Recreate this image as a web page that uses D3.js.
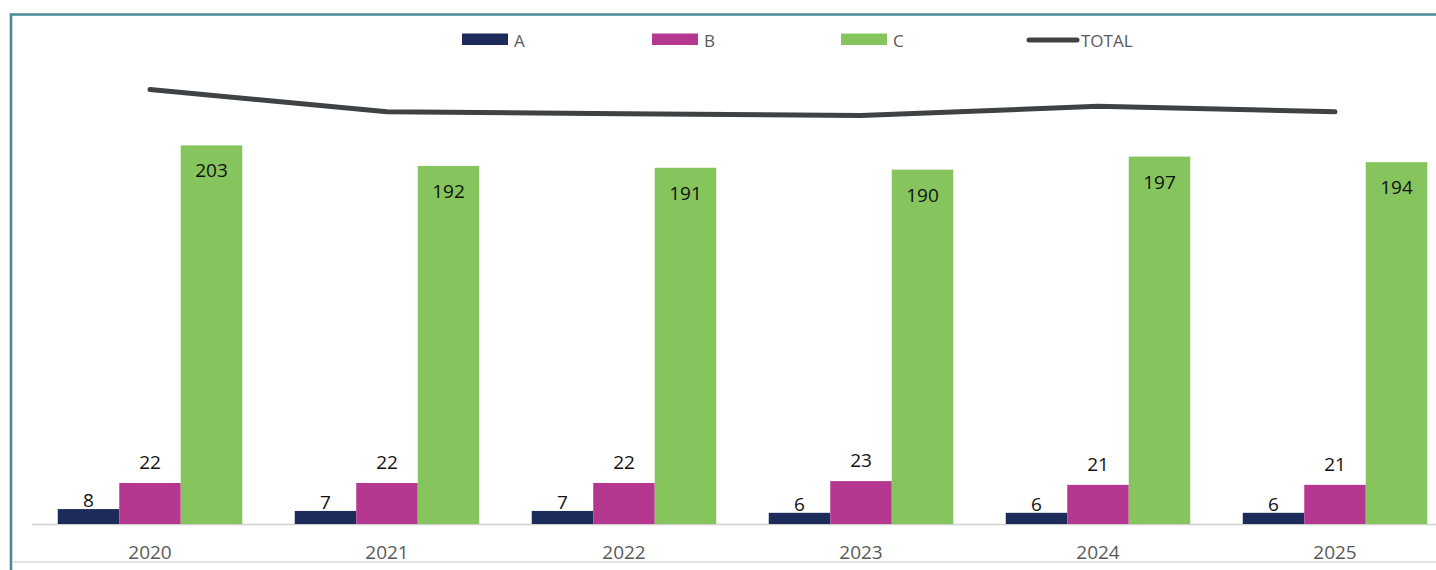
<!DOCTYPE html>
<html>
<head>
<meta charset="utf-8">
<script src="https://cdn.jsdelivr.net/npm/d3@7"></script>
<style>
  html, body { margin: 0; padding: 0; background: #ffffff; }
  svg { display: block; }
</style>
</head>
<body>
<script>
const years = ["2020", "2021", "2022", "2023", "2024", "2025"];
const seriesA = [8, 7, 7, 6, 6, 6];
const seriesB = [22, 22, 22, 23, 21, 21];
const seriesC = [203, 192, 191, 190, 197, 194];
const totals = [233, 221, 220, 219, 224, 221];
const seriesNames = ["A", "B", "C"];
const colors = { A: "#1c2b5a", B: "#b5378f", C: "#86c55e", TOTAL: "#3e4245" };

const W = 1436, H = 570;
const svg = d3.select("body").append("svg").attr("width", W).attr("height", H);
const font = "'Open Sans', 'Liberation Sans', sans-serif";

// frame
svg.append("path")
  .attr("d", `M11,${H} L11,14.5 L${W},14.5`)
  .attr("fill", "none").attr("stroke", "#4a8b98").attr("stroke-width", 2.6);
svg.append("line").attr("x1", 12.5).attr("x2", W).attr("y1", 562).attr("y2", 562)
  .attr("stroke", "#d9d9d9").attr("stroke-width", 1.5);

const baseY = 524;
const x0 = d3.scaleBand().domain(years).range([31.5, 1453.5])
  .paddingInner(0.2215).paddingOuter(0.11075);
const x1 = d3.scaleBand().domain(seriesNames).range([0, x0.bandwidth()]);
const y = d3.scaleLinear().domain([0, 250]).range([baseY, baseY - 250 * 1.865]);

const data = { A: seriesA, B: seriesB, C: seriesC };

// axis line
svg.append("line").attr("x1", 32).attr("x2", W).attr("y1", baseY + 0.5).attr("y2", baseY + 0.5)
  .attr("stroke", "#d0d0d0").attr("stroke-width", 1.5);

// bars
seriesNames.forEach(s => {
  svg.append("g").selectAll("rect").data(years).join("rect")
    .attr("x", (d) => x0(d) + x1(s))
    .attr("y", (d, i) => y(data[s][i]))
    .attr("width", x1.bandwidth())
    .attr("height", (d, i) => baseY - y(data[s][i]))
    .attr("fill", colors[s]);
});

// labels
const labelOffset = { A: -2, B: -14, C: 32 };
seriesNames.forEach(s => {
  svg.append("g").selectAll("text").data(years).join("text")
    .attr("x", (d) => x0(d) + x1(s) + x1.bandwidth() / 2)
    .attr("y", (d, i) => y(data[s][i]) + labelOffset[s])
    .attr("text-anchor", "middle")
    .attr("font-family", font).attr("font-size", 19)
    .attr("fill", "#111111")
    .text((d, i) => data[s][i]);
});

// total line
const line = d3.line()
  .x((d, i) => x0(years[i]) + x0.bandwidth() / 2)
  .y(d => y(d));
svg.append("path").datum(totals).attr("d", line)
  .attr("fill", "none").attr("stroke", colors.TOTAL).attr("stroke-width", 5)
  .attr("stroke-linecap", "round").attr("stroke-linejoin", "round");

// x axis labels
const xAxis = d3.axisBottom(x0).tickSize(0).tickPadding(0);
const gx = svg.append("g").attr("transform", `translate(0,${baseY})`).call(xAxis);
gx.select(".domain").remove();
gx.selectAll("text")
  .attr("y", 35).attr("dy", 0)
  .attr("font-family", font).attr("font-size", 19).attr("fill", "#595959");

// legend
const legendItems = [
  { name: "A", x: 462, type: "rect" },
  { name: "B", x: 652, type: "rect" },
  { name: "C", x: 841, type: "rect" },
  { name: "TOTAL", x: 1027, type: "line" }
];
const lg = svg.append("g");
legendItems.forEach(it => {
  if (it.type === "rect") {
    lg.append("rect").attr("x", it.x).attr("y", 33.5).attr("width", 46).attr("height", 11.5)
      .attr("fill", colors[it.name]);
  } else {
    lg.append("line").attr("x1", it.x + 2).attr("x2", it.x + 50).attr("y1", 40).attr("y2", 40)
      .attr("stroke", colors.TOTAL).attr("stroke-width", 5).attr("stroke-linecap", "round");
  }
  lg.append("text").attr("x", it.x + (it.type === "rect" ? 52 : 54)).attr("y", 46.5)
    .attr("font-family", font).attr("font-size", 17).attr("fill", "#595959")
    .text(it.name);
});
</script>
</body>
</html>
